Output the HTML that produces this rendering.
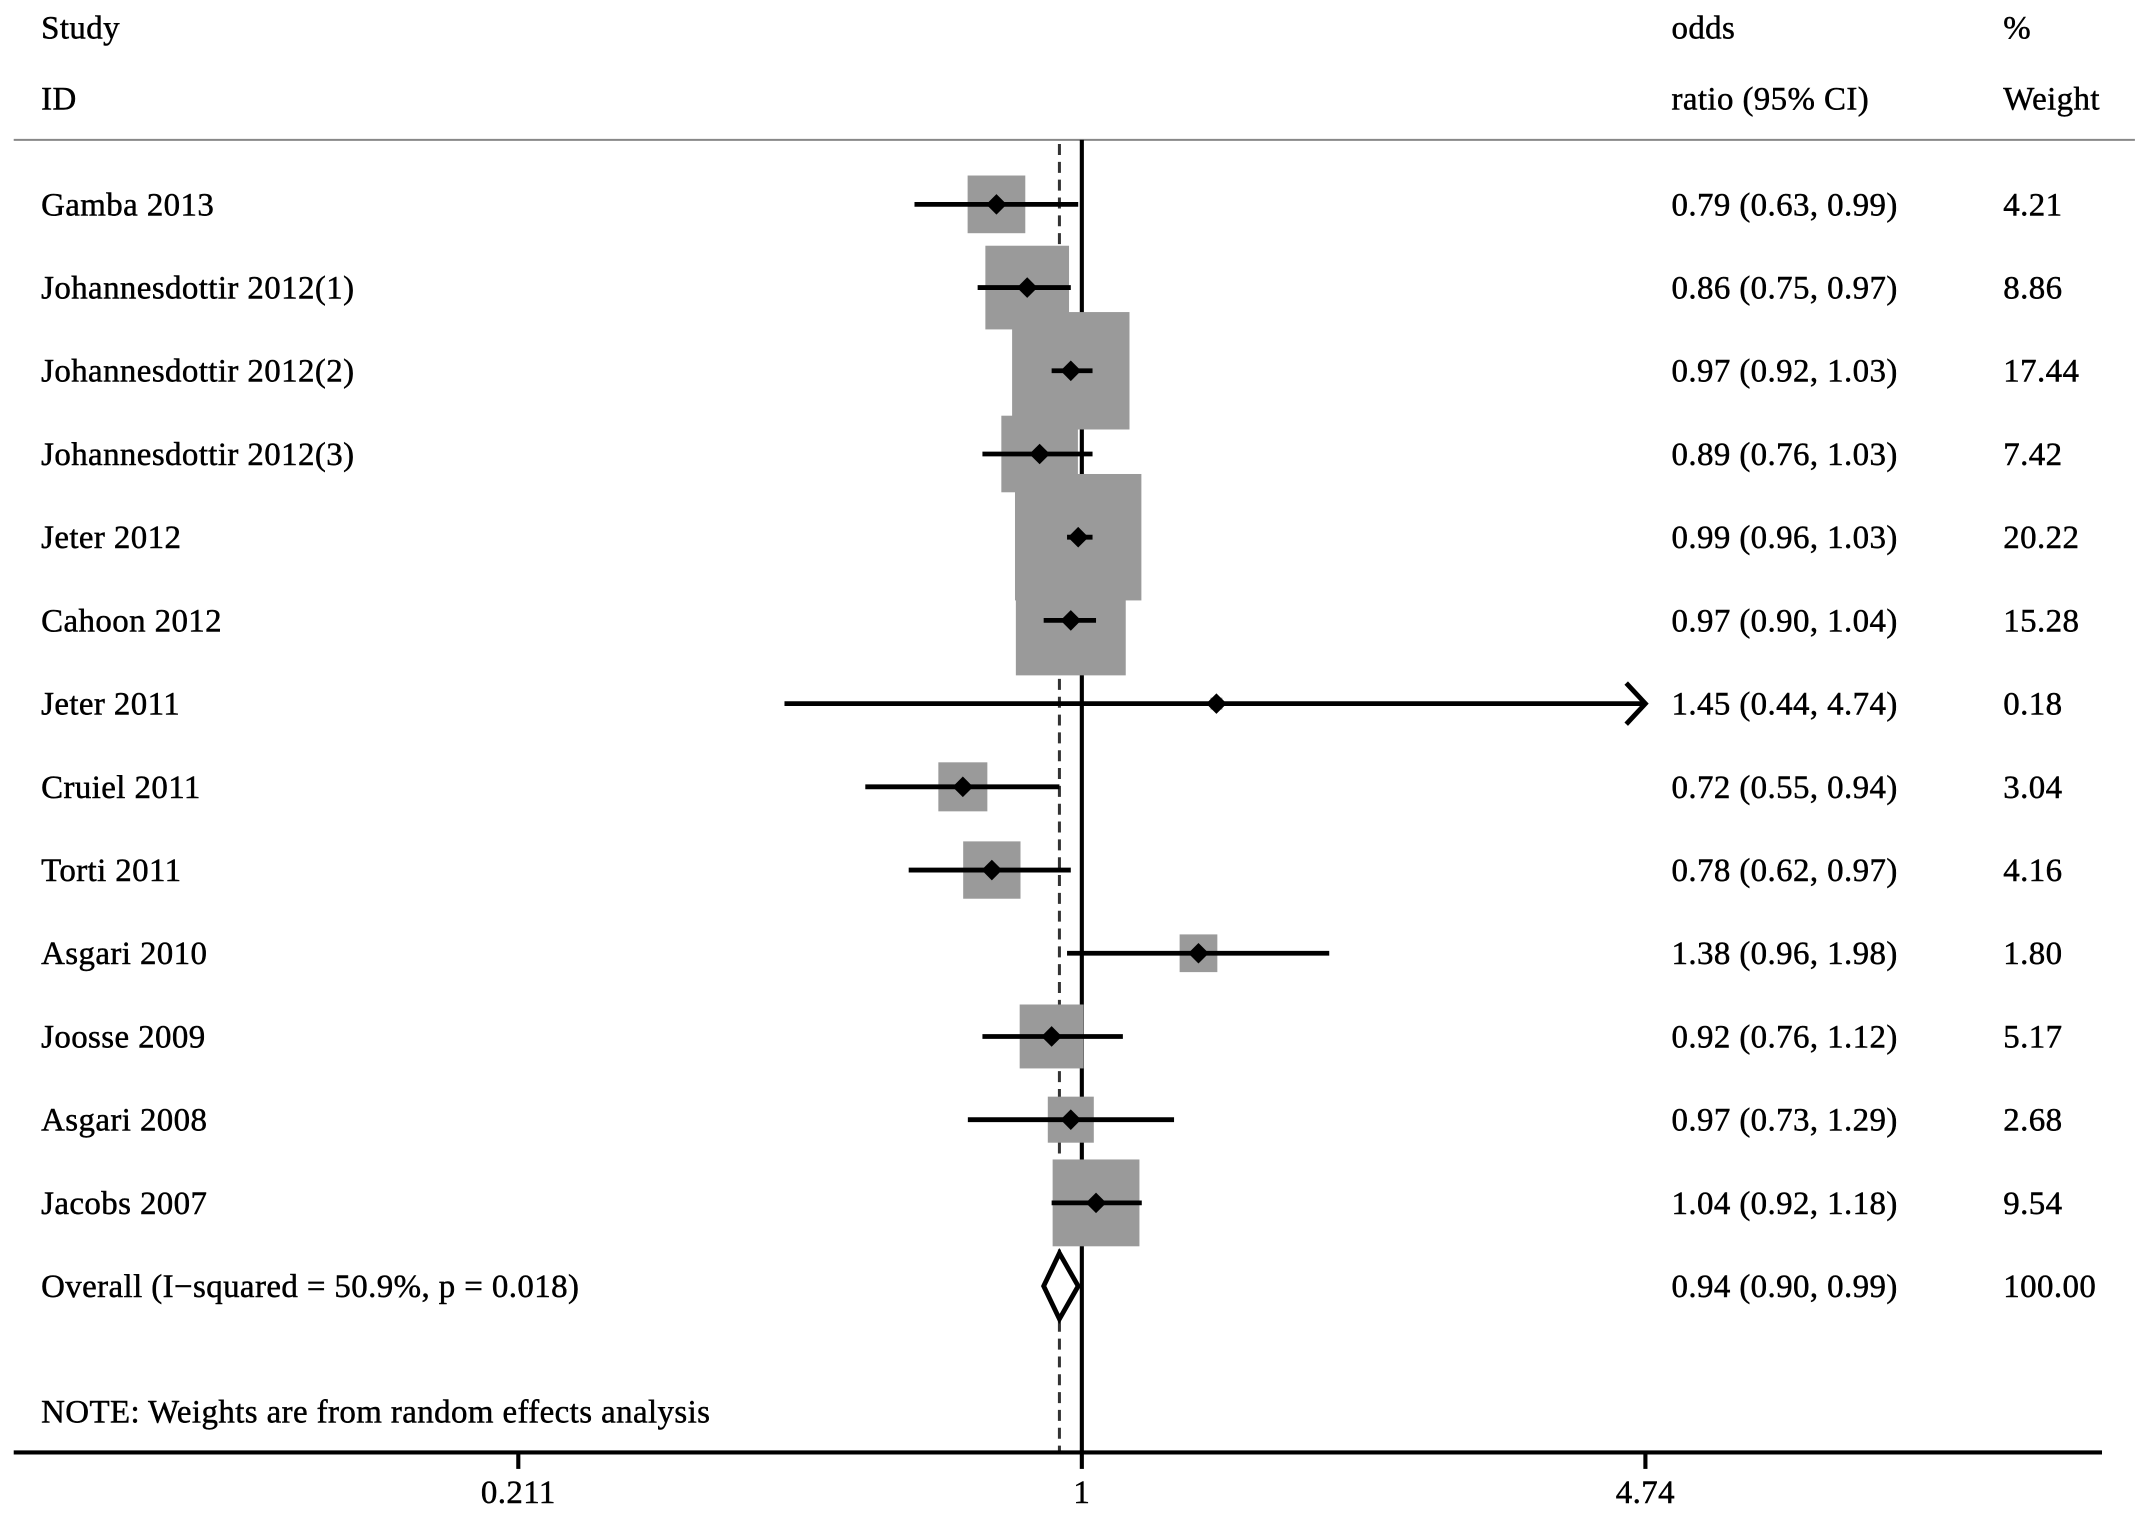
<!DOCTYPE html>
<html><head><meta charset="utf-8"><style>
html,body{margin:0;padding:0;background:#fff;}
svg{display:block;}
text{font-family:"Liberation Serif",serif;font-size:24px;fill:#000;stroke:#000;stroke-width:0.35px;letter-spacing:0.3px;}
</style></head><body>
<svg id="chart" width="2150" height="1532" viewBox="0 0 1568 1117" preserveAspectRatio="none" xmlns="http://www.w3.org/2000/svg">
<g>
<text x="30" y="28">Study</text>
<text x="30" y="80">ID</text>
<text x="1219" y="28">odds</text>
<text x="1219" y="80">ratio (95% CI)</text>
<text x="1461" y="28">%</text>
<text x="1461" y="80">Weight</text>
</g>
<line x1="10" y1="102" x2="1557" y2="102" stroke="#888" stroke-width="1.5"/>
<g id="plot"></g>
<text x="30" y="1037">NOTE: Weights are from random effects analysis</text>
</svg>
<script>
const studies = ["Gamba 2013","Johannesdottir 2012(1)","Johannesdottir 2012(2)","Johannesdottir 2012(3)","Jeter 2012","Cahoon 2012","Jeter 2011","Cruiel 2011","Torti 2011","Asgari 2010","Joosse 2009","Asgari 2008","Jacobs 2007"];
const orValues = [0.79,0.86,0.97,0.89,0.99,0.97,1.45,0.72,0.78,1.38,0.92,0.97,1.04];
const ciLower = [0.63,0.75,0.92,0.76,0.96,0.90,0.44,0.55,0.62,0.96,0.76,0.73,0.92];
const ciUpper = [0.99,0.97,1.03,1.03,1.03,1.04,4.74,0.94,0.97,1.98,1.12,1.29,1.18];
const weights = [4.21,8.86,17.44,7.42,20.22,15.28,0.18,3.04,4.16,1.80,5.17,2.68,9.54];
const overall = [0.94,0.90,0.99];
const overallLabel = "Overall  (I\u2212squared = 50.9%, p = 0.018)";
const tickValues = [0.211,1,4.74];
const tickLabels = ["0.211","1","4.74"];

const NS="http://www.w3.org/2000/svg";
const g=document.getElementById('plot');
const xMin=0.211, xMax=4.74, pxMin=378, pxMax=1200;
function xs(v){return pxMin+(Math.log(v)-Math.log(xMin))/(Math.log(xMax)-Math.log(xMin))*(pxMax-pxMin);}
function ys(i){return 149+i*60.67;}
function el(t,a,p){const e=document.createElementNS(NS,t);for(const k in a)e.setAttribute(k,a[k]);(p||g).appendChild(e);return e;}
const fmt=v=>v.toFixed(2);

const axisY=1059;
let l=el('line',{x1:xs(1),y1:102,x2:xs(1),y2:axisY,stroke:'#000','stroke-width':3});


l=el('line',{x1:xs(overall[0]),y1:105,x2:xs(overall[0]),y2:axisY,stroke:'#333','stroke-width':2.2,'stroke-dasharray':'8,5'});



studies.forEach((s,i)=>{
  const y=ys(i), cx=xs(orValues[i]);
  const sz=20.5*Math.sqrt(weights[i]);
  const grp=el('g',{});
  
  
  const r=el('rect',{x:cx-sz/2,y:y-sz/2,width:sz,height:sz,fill:'#9a9a9a'},grp);
  
  
  const hi=Math.min(ciUpper[i],xMax);
  const ci=el('line',{x1:xs(ciLower[i]),y1:y,x2:xs(hi),y2:y,stroke:'#000','stroke-width':3.5},grp);
  
  
  if(ciUpper[i]>=xMax){
    const ax=xs(xMax);
    const ar=el('polyline',{points:`${ax-14},${y-15} ${ax},${y} ${ax-14},${y+15}`,fill:'none',stroke:'#000','stroke-width':3.5},grp);
    
    
  }
  const d=el('polygon',{points:`${cx-7.5},${y} ${cx},${y-7.5} ${cx+7.5},${y} ${cx},${y+7.5}`,fill:'#000'},grp);
  
  
  const t1=el('text',{x:30,y:y+8},grp);t1.textContent=s;
  
  
  const t2=el('text',{x:1219,y:y+8},grp);t2.textContent=`${fmt(orValues[i])} (${fmt(ciLower[i])}, ${fmt(ciUpper[i])})`;
  
  
  const t3=el('text',{x:1461,y:y+8},grp);t3.textContent=fmt(weights[i]);
  
  
});

const oy=ys(studies.length);
const od=el('polygon',{points:`${xs(overall[1])},${oy} ${xs(overall[0])},${oy-24} ${xs(overall[2])},${oy} ${xs(overall[0])},${oy+24}`,fill:'#fff',stroke:'#000','stroke-width':3.5});


let t=el('text',{x:30,y:oy+8,'xml:space':'preserve'});t.textContent=overallLabel;


t=el('text',{x:1219,y:oy+8});t.textContent=`${fmt(overall[0])} (${fmt(overall[1])}, ${fmt(overall[2])})`;


t=el('text',{x:1461,y:oy+8});t.textContent="100.00";



l=el('line',{x1:10,y1:axisY,x2:1533,y2:axisY,stroke:'#000','stroke-width':3});


tickValues.forEach((v,i)=>{
  const x=xs(v);
  const tk=el('line',{x1:x,y1:axisY,x2:x,y2:axisY+12,stroke:'#000','stroke-width':3});
  
  
  const tl=el('text',{x:x,y:axisY+37,'text-anchor':'middle'});tl.textContent=tickLabels[i];
  
  
});
</script>
</body></html>
